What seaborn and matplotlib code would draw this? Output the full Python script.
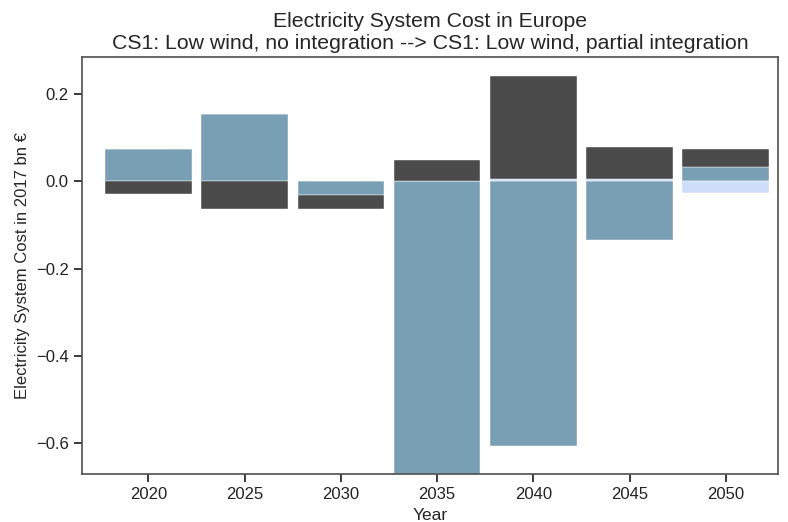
import numpy as np
import pandas as pd
import seaborn as sns
import matplotlib.pyplot as plt

# Change in electricity system cost per year (bn EUR, 2017 prices), by component
years = ["2020", "2025", "2030", "2035", "2040", "2045", "2050"]
blue_vals = [0.075, 0.155, -0.032, -0.75, -0.605, -0.135, 0.032]
light_vals = [0.0, 0.0, 0.0, 0.0, 0.005, 0.005, -0.027]
dark_vals = [-0.030, -0.064, -0.032, 0.050, 0.237, 0.073, 0.043]

layers = [("blue", blue_vals, "#789fb4"),
          ("light", light_vals, "#cfddfb"),
          ("dark", dark_vals, "#4b4b4b")]

sns.set_theme(style="ticks")
plt.rcParams["font.family"] = ["Liberation Sans", "DejaVu Sans"]

fig = plt.figure(figsize=(7.88, 5.22), dpi=100)
ax = fig.add_axes([0.104, 0.092, 0.883, 0.799])

# stack positives upward and negatives downward separately
pos_base = np.zeros(len(years))
neg_base = np.zeros(len(years))
for name, vals, col in layers:
    vals = np.array(vals)
    bottom = np.where(vals >= 0, pos_base, neg_base)
    df = pd.DataFrame({"Year": years, "value": vals})
    sns.barplot(data=df, x="Year", y="value", order=years, color=col,
                saturation=1, width=0.9, errorbar=None, bottom=bottom,
                edgecolor="white", linewidth=0.3, ax=ax)
    pos_base = pos_base + np.clip(vals, 0, None)
    neg_base = neg_base + np.clip(vals, None, 0)

ax.set_xlim(-0.69, 6.54)
ax.set_ylim(-0.67, 0.285)
ax.set_yticks([0.2, 0.0, -0.2, -0.4, -0.6])
ax.tick_params(labelsize=12, colors="#222222")
for s in ax.spines.values():
    s.set_color("#555555")
ax.set_xlabel("Year", fontsize=12.5)
ax.set_ylabel("Electricity System Cost in 2017 bn €", fontsize=12)
ax.set_title("Electricity System Cost in Europe\n"
             "CS1: Low wind, no integration --> CS1: Low wind, partial integration",
             fontsize=15.3)

fig.savefig("out.png", dpi=100)
